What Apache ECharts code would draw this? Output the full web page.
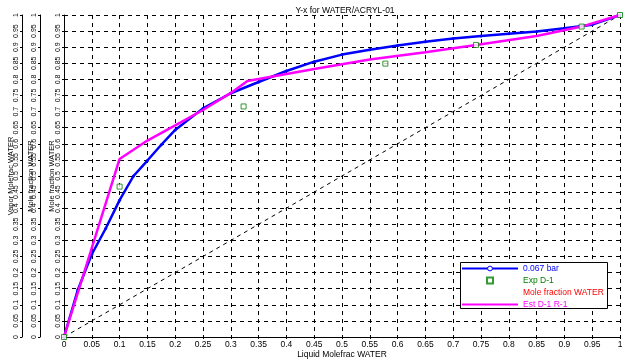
<!DOCTYPE html>
<html><head><meta charset="utf-8">
<script src="https://cdn.jsdelivr.net/npm/echarts@6/dist/echarts.min.js"></script>
<style>html,body{margin:0;padding:0;background:#fff}#c{width:626px;height:361px}</style>
</head><body><div id="c"></div>
<script>
// ---- data ----
const titleText = 'Y-x for WATER/ACRYL-01';
const xName = 'Liquid Molefrac WATER';
const yNames = ['Mole fraction WATER', 'Mole fraction WATER', 'Vapor Molefrac WATER'];
const tickStep = 0.05;

const blueName = '0.067 bar';
const blueX = [0, 0.025, 0.05, 0.075, 0.1, 0.125, 0.15, 0.175, 0.2, 0.25, 0.3, 0.35, 0.4, 0.45, 0.5, 0.55, 0.6, 0.65, 0.7, 0.75, 0.8, 0.85, 0.9, 0.95, 1];
const blueY = [0, 0.147, 0.257, 0.337, 0.425, 0.500, 0.548, 0.597, 0.643, 0.710, 0.757, 0.792, 0.826, 0.855, 0.877, 0.892, 0.905, 0.917, 0.927, 0.935, 0.942, 0.949, 0.959, 0.970, 1];

const expName = 'Exp D-1';
const expX = [0, 0.1, 0.323, 0.578, 0.741, 0.931, 1];
const expY = [0, 0.467, 0.716, 0.849, 0.907, 0.964, 1];

const redName = 'Mole fraction WATER';

const estName = 'Est D-1 R-1';
const estX = [0, 0.1, 0.15, 0.2, 0.25, 0.3, 0.33, 0.35, 0.45, 0.55, 0.65, 0.741, 0.85, 0.931, 1];
const estY = [0, 0.553, 0.610, 0.657, 0.705, 0.758, 0.795, 0.801, 0.832, 0.862, 0.884, 0.907, 0.935, 0.964, 1];

const diagX = [0, 1];
const diagY = [0, 1];

// ---- chart ----
const zip = (a, b) => a.map((v, i) => [v, b[i]]);
const FONT = '"Liberation Sans", "DejaVu Sans", sans-serif';
const FS = 8.5;
const YFS = 7;
const chart = echarts.init(document.getElementById('c'), null, {renderer: 'canvas'});

function yAxis(i, offset, nameGap, showSplit) {
  return {
    type: 'value', min: 0, max: 1, interval: tickStep, position: 'left', offset: offset,
    name: yNames[i], nameLocation: 'middle', nameRotate: 90, nameGap: nameGap, nameMoveOverlap: false,
    nameTextStyle: {color: '#000', fontSize: YFS + 0.5, fontFamily: FONT},
    axisLine: {show: true, lineStyle: {color: '#000', width: 1}},
    axisTick: {show: true, length: 2, lineStyle: {color: '#000'}},
    axisLabel: {rotate: 90, margin: 2, color: '#000', fontSize: YFS, fontFamily: FONT},
    splitLine: {show: showSplit, lineStyle: {color: '#000', width: 1, type: [4, 4]}}
  };
}

chart.setOption({
  animation: false,
  backgroundColor: '#fff',
  title: {text: titleText, left: 340, top: 1, textAlign: 'center',
    textStyle: {fontSize: FS, fontWeight: 'normal', color: '#000', fontFamily: FONT}},
  grid: {left: 64, right: 6, top: 15, bottom: 24, containLabel: false, outerBoundsMode: 'none'},
  xAxis: {
    type: 'value', min: 0, max: 1, interval: tickStep,
    name: xName, nameLocation: 'middle', nameGap: 13, nameMoveOverlap: false,
    nameTextStyle: {color: '#000', fontSize: FS, fontFamily: FONT},
    axisLine: {show: true, lineStyle: {color: '#000', width: 1}},
    axisTick: {show: true, length: 2, lineStyle: {color: '#000'}},
    axisLabel: {margin: 3, color: '#000', fontSize: FS, fontFamily: FONT},
    splitLine: {show: true, lineStyle: {color: '#000', width: 1, type: [4, 4]}}
  },
  yAxis: [yAxis(0, 0, 8, true), yAxis(1, 24, 5, false), yAxis(2, 42, 7, false)],
  legend: {
    orient: 'vertical', left: 461, top: 263, z: 20,
    itemWidth: 56, itemHeight: 6, itemGap: 1, padding: 0,
    textStyle: {fontSize: FS, fontFamily: FONT, lineHeight: 11},
    data: [
      {name: blueName, textStyle: {color: '#0000ff'}, itemStyle: {color: '#fff', borderColor: '#0000ff', borderWidth: 1}},
      {name: expName, icon: 'path://M0,0L1,0L1,1L0,1Z', textStyle: {color: '#008000'}},
      {name: redName, textStyle: {color: '#ff0000'}, itemStyle: {color: 'transparent', borderColor: 'transparent'}, lineStyle: {color: 'transparent'}},
      {name: estName, textStyle: {color: '#ff00ff'}, itemStyle: {color: 'transparent', borderColor: 'transparent'}}
    ]
  },
  graphic: [{type: 'rect', left: 460, top: 262, z: 15, shape: {width: 147, height: 46},
    style: {fill: '#fff', stroke: '#000', lineWidth: 1}}],
  series: [
    {type: 'line', name: 'diag', data: zip(diagX, diagY), symbol: 'none', silent: true,
      lineStyle: {color: '#000', width: 1, type: [4, 4]}, z: 1},
    {type: 'line', name: blueName, data: zip(blueX, blueY), symbol: 'circle', symbolSize: 3, showSymbol: true,
      lineStyle: {color: '#0000ff', width: 2.5}, itemStyle: {color: '#0000ff'}, z: 3},
    {type: 'line', name: estName, data: zip(estX, estY), symbol: 'none',
      lineStyle: {color: '#ff00ff', width: 2.5}, itemStyle: {color: '#ff00ff'}, z: 4},
    {type: 'scatter', name: expName, data: zip(expX, expY), symbol: 'rect', symbolSize: 5,
      itemStyle: {color: '#fff', borderColor: '#008000', borderWidth: 1}, z: 5},
    {type: 'line', name: redName, data: [], symbol: 'none',
      lineStyle: {color: '#ff0000', width: 0}, itemStyle: {color: '#ff0000'}}
  ]
});
</script></body></html>
